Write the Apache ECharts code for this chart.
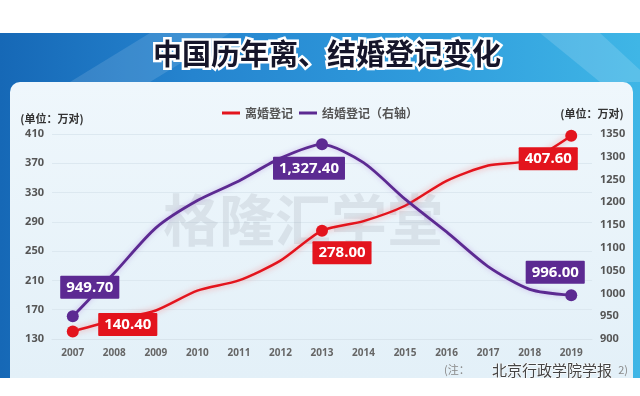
<!DOCTYPE html>
<html><head><meta charset="utf-8">
<script src="https://cdn.jsdelivr.net/npm/echarts@6/dist/echarts.min.js"></script>
<style>html,body{margin:0;padding:0;background:#fff;}#c{width:640px;height:396px;}</style>
</head><body><div id="c"></div>
<script>
const years = ['2007','2008','2009','2010','2011','2012','2013','2014','2015','2016','2017','2018','2019'];
const divorce = [140.4, 156, 169, 196, 210, 237, 278, 291, 312, 346, 367, 374, 407.6];
const marriage = [949.7, 1045, 1144, 1204, 1247, 1297, 1327.4, 1287, 1207, 1135, 1059, 1009, 996];
const labeledIdx = [0, 6, 12];
const divorceOffsets = {0:[55,-7], 6:[20,22], 12:[-23,23]};
const marriageOffsets = {0:[17,-29], 6:[-13,24], 12:[-16,-23]};
const leftTicks = {min:130, max:410, interval:40};
const rightTicks = {min:900, max:1350, interval:50};

const RED = '#e3141d', PURPLE = '#5c2a92';
const CJK = '"Noto Sans CJK SC","Noto Sans",sans-serif';

function fmt(v){
  const s = v.toFixed(2); const p = s.split('.');
  return p[0].replace(/\B(?=(\d{3})+(?!\d))/g, ',') + '.' + p[1];
}
function build(vals, offsets, color){
  return vals.map((v,i)=>{
    if(labeledIdx.indexOf(i) < 0) return v;
    return {value:v, symbol:'circle', symbolSize:12,
      label:{show:true, position:'inside', offset:offsets[i], formatter:p=>fmt(p.value),
        color:'#fff', fontSize:15, fontWeight:'bold', fontFamily:'"Noto Sans",sans-serif',
        backgroundColor:color, padding:[4,6], borderRadius:1}};
  });
}

const chart = echarts.init(document.getElementById('c'), null, {renderer:'canvas'});
chart.setOption({
  animation:false,
  backgroundColor:'#ffffff',
  graphic:{elements:[
    {type:'rect', z:-10, shape:{x:0,y:33,width:640,height:345},
     style:{fill:new echarts.graphic.LinearGradient(0,0,1,0,[
       {offset:0,color:'#1668b6'},{offset:0.3,color:'#2584cf'},{offset:0.65,color:'#2f9bdc'},{offset:1,color:'#3fb6e6'}])}},
    {type:'polygon', z:-9, shape:{points:[[150,33],[230,33],[150,82],[70,82]]}, style:{fill:'rgba(255,255,255,0.12)'}},
    {type:'polygon', z:-9, shape:{points:[[540,33],[600,33],[640,70],[640,82],[600,82]]}, style:{fill:'rgba(255,255,255,0.15)'}},
    {type:'rect', z:-8, shape:{x:10,y:82,width:623,height:296,r:[10,10,0,0]},
     style:{fill:new echarts.graphic.LinearGradient(0,0,0,1,[
       {offset:0,color:'#eff7fc'},{offset:1,color:'#e3f0f8'}])}},
    {type:'text', z:-7, x:327, y:54, style:{text:'中国历年离、结婚登记变化', font:'bold 29px '+CJK,
      align:'center', verticalAlign:'middle', fill:'#ffffff', stroke:'#ffffff', lineWidth:5}},
    {type:'text', z:-6, x:327, y:54, style:{text:'中国历年离、结婚登记变化', font:'bold 29px '+CJK,
      align:'center', verticalAlign:'middle', fill:'#15152a'}},
    {type:'text', z:1, x:303, y:220, style:{text:'格隆汇学堂', font:'bold 56px '+CJK,
      align:'center', verticalAlign:'middle', fill:'rgba(120,130,140,0.15)'}},
    {type:'text', z:1, x:444, y:370, style:{text:'(注：', font:'11px '+CJK,
      align:'left', verticalAlign:'middle', fill:'#888'}},
    {type:'text', z:1, x:492, y:370, style:{text:'北京行政学院学报', font:'15px '+CJK,
      align:'left', verticalAlign:'middle', fill:'#444', stroke:'#fff', lineWidth:1}},
    {type:'text', z:1, x:628, y:370, style:{text:'2)', font:'11px '+CJK,
      align:'right', verticalAlign:'middle', fill:'#888'}}
  ]},
  legend:{top:102, left:'center', itemWidth:18, itemHeight:3, itemGap:6, icon:'rect',
    textStyle:{fontSize:12, fontWeight:'bold', color:'#555', fontFamily:CJK},
    data:['离婚登记','结婚登记（右轴）']},
  grid:{left:52, right:48, top:134, bottom:57},
  xAxis:{type:'category', data:years, boundaryGap:true,
    axisLine:{show:true, lineStyle:{color:'#d8e4ec'}}, axisTick:{show:false},
    axisLabel:{fontSize:10, fontWeight:'bold', color:'#666', margin:9, fontFamily:'"Noto Sans",sans-serif'}},
  yAxis:[
    {type:'value', min:leftTicks.min, max:leftTicks.max, interval:leftTicks.interval,
     name:'(单位：万对)', nameLocation:'end', nameGap:10,
     nameTextStyle:{fontSize:11, fontWeight:'bold', color:'#333', fontFamily:CJK, align:'center'},
     axisLine:{show:false}, axisTick:{show:false},
     axisLabel:{fontSize:11, fontWeight:'bold', color:'#555', margin:8, fontFamily:'"Noto Sans",sans-serif',
       formatter:v=>String(v)},
     splitLine:{show:true, lineStyle:{color:'#dce8f0', width:1}}},
    {type:'value', min:rightTicks.min, max:rightTicks.max, interval:rightTicks.interval,
     name:'(单位：万对)', nameLocation:'end', nameGap:15,
     nameTextStyle:{fontSize:11, fontWeight:'bold', color:'#333', fontFamily:CJK, align:'center'},
     axisLine:{show:false}, axisTick:{show:false},
     axisLabel:{fontSize:11, fontWeight:'bold', color:'#555', margin:8, fontFamily:'"Noto Sans",sans-serif',
       formatter:v=>String(v)},
     splitLine:{show:false}}
  ],
  series:[
    {name:'离婚登记', type:'line', yAxisIndex:0, smooth:0.25, symbol:'none', color:RED,
     lineStyle:{width:2.5, color:RED, shadowBlur:6, shadowColor:'rgba(255,90,90,0.6)'},
     itemStyle:{color:RED}, z:3,
     data:build(divorce, divorceOffsets, RED)},
    {name:'结婚登记（右轴）', type:'line', yAxisIndex:1, smooth:0.25, symbol:'none', color:PURPLE,
     lineStyle:{width:2.8, color:PURPLE, shadowBlur:5, shadowColor:'rgba(170,120,220,0.5)'},
     itemStyle:{color:PURPLE}, z:4,
     data:build(marriage, marriageOffsets, PURPLE)}
  ]
});
</script></body></html>
